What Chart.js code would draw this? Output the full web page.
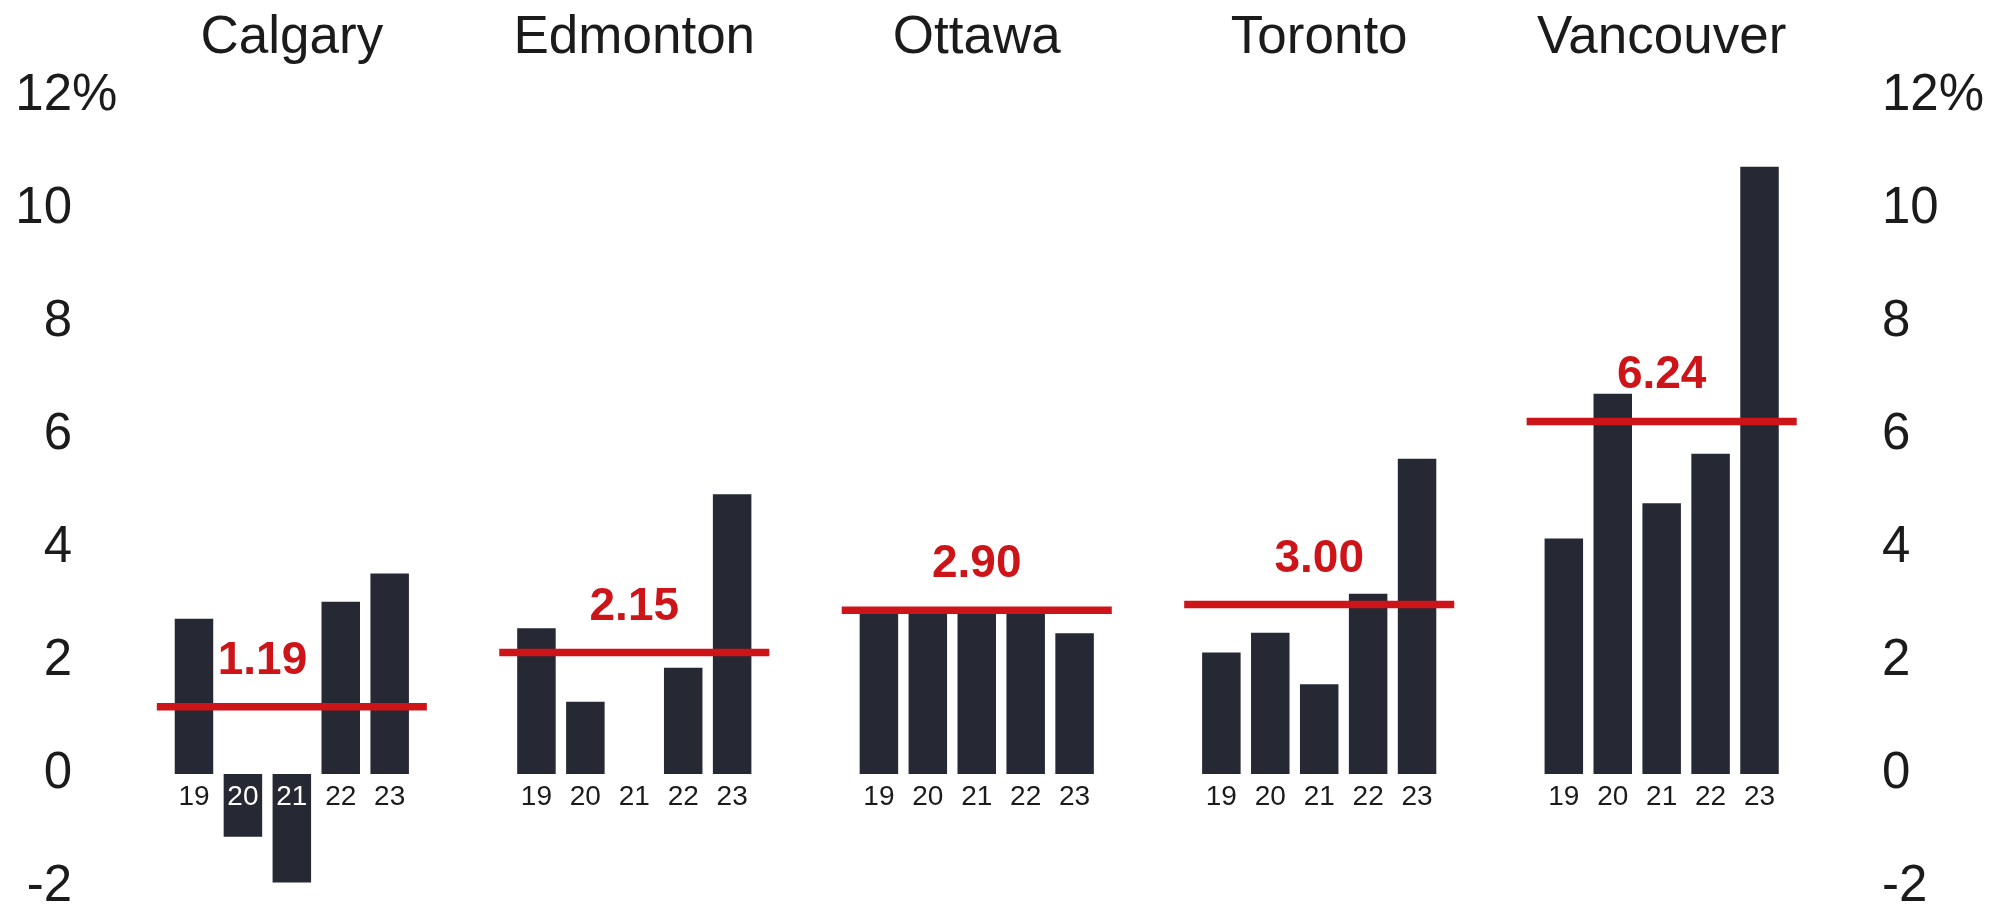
<!DOCTYPE html>
<html>
<head>
<meta charset="utf-8">
<title>Annual change by city</title>
<script src="https://cdn.jsdelivr.net/npm/chart.js@4/dist/chart.umd.min.js"></script>
<style>
  html, body { margin: 0; padding: 0; background: #ffffff; }
  #wrap { width: 1997px; height: 913px; position: relative; }
</style>
</head>
<body>
<div id="wrap"><canvas id="chart"></canvas></div>
<script>
// ---- data -------------------------------------------------------------
const cities = ['Calgary', 'Edmonton', 'Ottawa', 'Toronto', 'Vancouver'];
const years = ['19', '20', '21', '22', '23'];
const calgary   = [2.75, -1.11, -1.92, 3.05, 3.55];
const edmonton  = [2.58, 1.28, 0, 1.88, 4.95];
const ottawa    = [2.95, 2.95, 2.95, 2.95, 2.49];
const toronto   = [2.15, 2.50, 1.59, 3.19, 5.58];
const vancouver = [4.17, 6.73, 4.79, 5.67, 10.75];
const averages  = [1.19, 2.15, 2.90, 3.00, 6.24];
const yTicks    = [-2, 0, 2, 4, 6, 8, 10, 12];

// ---- styling -----------------------------------------------------------
const FONT = "'Liberation Sans', Arial, Helvetica, sans-serif";
const INK = '#1b1b1b';
const BAR = '#262833';
const RED = '#cd1419';
const GAP = 2;          // empty slots between city panels
const LINE_EXT = 0.76;  // how far an average line reaches past the outer bars (in slots)

Chart.defaults.font.family = FONT;
Chart.defaults.color = INK;

// ---- one slot per bar, panels separated by empty slots -----------------
const series = [calgary, edmonton, ottawa, toronto, vancouver];
const slotLabels = [''];
const slotValues = [null];
const titleLabels = [''];
const panelStart = [];
series.forEach((vals, p) => {
  if (p > 0) {
    for (let g = 0; g < GAP; g++) { slotLabels.push(''); slotValues.push(null); titleLabels.push(''); }
  }
  panelStart.push(slotLabels.length);
  vals.forEach((v, i) => {
    slotLabels.push(years[i]);
    slotValues.push(v);
    titleLabels.push(i === Math.floor(years.length / 2) ? cities[p] : '');
  });
});
slotLabels.push(''); slotValues.push(null); titleLabels.push('');
const slotCount = slotLabels.length;

// average lines, one short segment across each panel
const averageSets = averages.map((a, p) => ({
  type: 'line',
  xAxisID: 'xl',
  yAxisID: 'y',
  data: [
    { x: panelStart[p] - LINE_EXT, y: a },
    { x: panelStart[p] + years.length - 1 + LINE_EXT, y: a }
  ],
  borderColor: RED,
  borderWidth: 7.5,
  borderCapStyle: 'butt',
  pointRadius: 0,
  order: 1
}));

// red value text above each average line
const averageLabels = {
  id: 'averageLabels',
  afterDatasetsDraw(chart, args, opts) {
    const { ctx } = chart;
    const xs = chart.scales.xl, ys = chart.scales.y;
    ctx.save();
    ctx.font = 'bold 46px ' + FONT;
    ctx.fillStyle = RED;
    ctx.textAlign = 'center';
    ctx.textBaseline = 'alphabetic';
    averages.forEach((a, p) => {
      const mid = panelStart[p] + (years.length - 1) / 2 + (opts.nudge[p] || 0);
      ctx.fillText(a.toFixed(2), xs.getPixelForValue(mid), ys.getPixelForValue(a) - opts.lift);
    });
    ctx.restore();
  }
};

// percent sign hanging after the top tick of the left axis
const percentSuffix = {
  id: 'percentSuffix',
  afterDraw(chart) {
    const s = chart.scales.y;
    const { ctx } = chart;
    ctx.save();
    ctx.font = s.options.ticks.font.size + 'px ' + FONT;
    ctx.fillStyle = INK;
    ctx.textAlign = 'left';
    ctx.textBaseline = 'middle';
    ctx.fillText('%', s.right - s.options.ticks.padding, s.getPixelForValue(yTicks[yTicks.length - 1]));
    ctx.restore();
  }
};

const setTicks = s => { s.ticks = yTicks.map(v => ({ value: v })); };
// the value axes keep a fixed width and do not push the plot area inward
const fixWidth = w => s => { s.width = w; s.paddingTop = 0; s.paddingBottom = 0; };

new Chart(document.getElementById('chart'), {
  type: 'bar',
  data: {
    labels: slotLabels,
    datasets: [
      {
        type: 'bar',
        data: slotValues,
        backgroundColor: BAR,
        borderWidth: 0,
        inflateAmount: 0,
        grouped: false,
        barThickness: 38.5,
        xAxisID: 'x',
        yAxisID: 'y',
        order: 2
      },
      ...averageSets
    ]
  },
  options: {
    responsive: true,
    maintainAspectRatio: false,
    animation: false,
    layout: { padding: { top: 0, right: 0, bottom: 26, left: 0 } },
    plugins: {
      legend: { display: false },
      tooltip: { enabled: false },
      averageLabels: { nudge: { 0: -0.6 }, lift: 33 }
    },
    scales: {
      x: {
        type: 'category',
        position: { y: 0 },
        offset: true,
        grid: { display: false, drawTicks: false },
        border: { display: false },
        ticks: {
          z: 1,
          autoSkip: false,
          maxRotation: 0,
          minRotation: 0,
          padding: 6,
          font: { size: 28 },
          color: c => (slotValues[c.index] !== null && slotValues[c.index] < 0) ? '#ffffff' : INK
        },
        afterFit: s => { s.height = 0; }
      },
      xTop: {
        type: 'category',
        position: 'top',
        labels: titleLabels,
        offset: true,
        grid: { display: false, drawTicks: false },
        border: { display: false },
        ticks: { autoSkip: false, maxRotation: 0, minRotation: 0, padding: 26, font: { size: 53 }, color: INK },
        afterFit: s => { s.height = 96; }
      },
      xl: {
        type: 'linear',
        display: false,
        offset: false,
        min: -0.5,
        max: slotCount - 0.5,
        afterFit: s => { s.height = 0; }
      },
      y: {
        position: 'left',
        min: yTicks[0],
        max: yTicks[yTicks.length - 1],
        grid: { display: false, drawTicks: false },
        border: { display: false },
        afterBuildTicks: setTicks,
        ticks: { padding: 48.6, font: { size: 51 }, color: INK, callback: v => String(v) },
        afterFit: fixWidth(120.6)
      },
      y2: {
        position: 'right',
        min: yTicks[0],
        max: yTicks[yTicks.length - 1],
        grid: { display: false, drawTicks: false },
        border: { display: false },
        afterBuildTicks: setTicks,
        ticks: {
          padding: 49.1,
          font: { size: 51 },
          color: INK,
          callback: v => v === yTicks[yTicks.length - 1] ? v + '%' : String(v)
        },
        afterFit: fixWidth(164.1)
      }
    }
  },
  plugins: [averageLabels, percentSuffix]
});
</script>
</body>
</html>
